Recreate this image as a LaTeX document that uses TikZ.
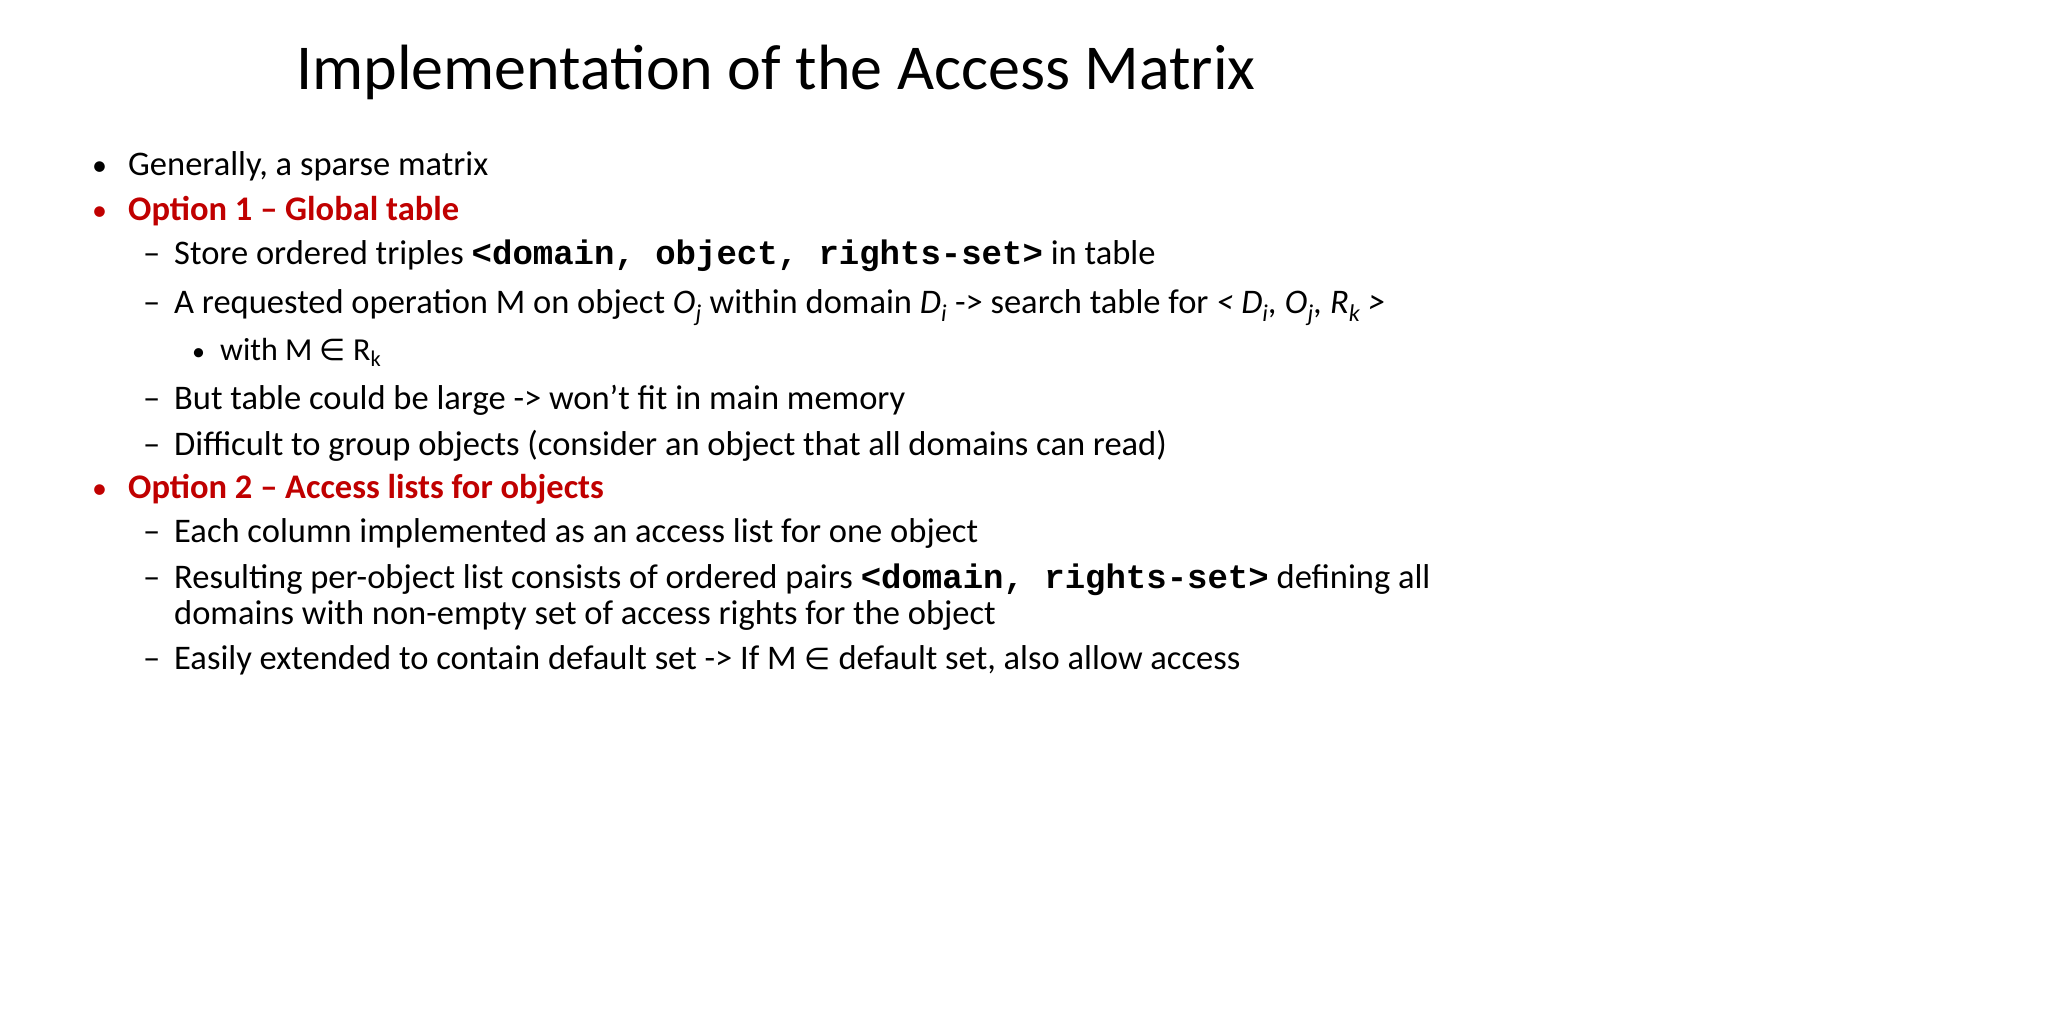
\documentclass[tikz,border=0pt]{standalone}
\usepackage{fontspec}
\setmainfont{Carlito}
\setmonofont{Liberation Mono}
\newfontfamily\symfont{DejaVu Sans}
\definecolor{optred}{HTML}{C00000}
\newcommand{\elem}{{\symfont\fontsize{30}{34}\selectfont ∈}}
\begin{document}
\begin{tikzpicture}[x=1pt,y=1pt,
  txt/.style={anchor=base west,inner sep=0pt,font=\fontsize{34.5}{40}\selectfont},
  mark1/.style={anchor=base west,inner sep=0pt,font=\fontsize{30}{38}\selectfont},
  red1/.style={txt,text=optred,font=\fontsize{34.5}{40}\selectfont\bfseries}]
\useasboundingbox (0,0) rectangle (2048,-1024);
\node[inner sep=0pt,anchor=base,font=\fontsize{64}{70}\selectfont] (title) at (776,-90) {Implementation of the Access Matrix};
\node[mark1] (b1) at (92,-176) {•};
\node[txt] (t1) at (128,-176) {Generally, a sparse matrix};
\node[mark1,text=optred] (b2) at (92,-221) {•};
\node[red1] (t2) at (128,-221) {Option 1 – Global table};
\node[txt] (d1) at (143,-265) {–};
\node[txt] (t3) at (174,-265) {Store ordered triples \texttt{\bfseries\fontsize{34}{38}\selectfont <domain, object, rights-set>} in table};
\node[txt] (d2) at (143,-313) {–};
\node[txt] (t4) at (174,-313) {A requested operation M on object \textit{O\textsubscript{j}} within domain \textit{D\textsubscript{i}} -> search table for \textit{< D\textsubscript{i}, O\textsubscript{j}, R\textsubscript{k} >}};
\node[mark1,font=\fontsize{26}{30}\selectfont] (b3) at (192,-360) {•};
\node[txt,font=\fontsize{32}{36}\selectfont] (t5) at (220,-360) {with M \elem{} R\textsubscript{k}};
\node[txt] (d3) at (143,-409) {–};
\node[txt] (t6) at (174,-409) {But table could be large -> won’t fit in main memory};
\node[txt] (d4) at (143,-455) {–};
\node[txt] (t7) at (174,-455) {Difficult to group objects (consider an object that all domains can read)};
\node[mark1,text=optred] (b4) at (92,-498) {•};
\node[red1] (t8) at (128,-498) {Option 2 – Access lists for objects};
\node[txt] (d5) at (143,-542) {–};
\node[txt] (t9) at (174,-542) {Each column implemented as an access list for one object};
\node[txt] (d6) at (143,-588) {–};
\node[txt] (t10) at (174,-588) {Resulting per-object list consists of ordered pairs \texttt{\bfseries\fontsize{34}{38}\selectfont <domain, rights-set>} defining all};
\node[txt] (t11) at (174,-624) {domains with non-empty set of access rights for the object};
\node[txt] (d7) at (143,-669) {–};
\node[txt] (t12) at (174,-669) {Easily extended to contain default set -> If M \elem{} default set, also allow access};
\end{tikzpicture}
\end{document}
